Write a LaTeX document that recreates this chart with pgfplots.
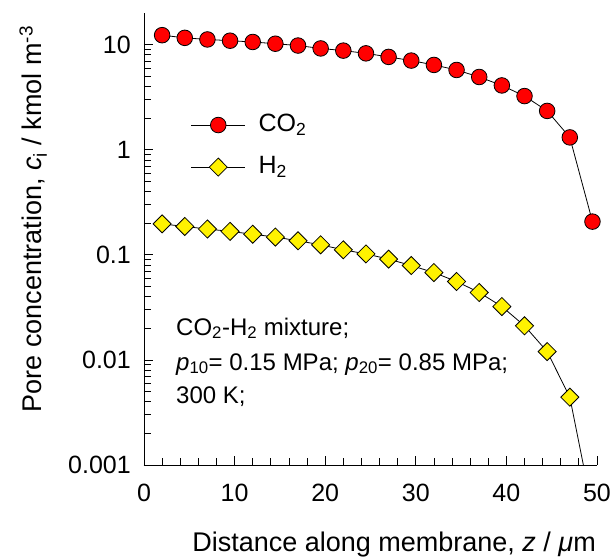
\documentclass[border=0pt]{standalone}
\usepackage{fontspec}
\setmainfont{Liberation Sans}
\usepackage{pgfplots}
\pgfplotsset{compat=1.18}

% Pore concentration profiles (kmol m^-3) along the membrane
\pgfplotstableread{
z      c
2      12.3
4.5    11.6
7      11.2
9.5    10.9
12     10.6
14.5   10.2
17     9.8
19.5   9.2
22     8.77
24.5   8.26
27     7.64
29.5   7.05
32     6.41
34.5   5.74
37     4.92
39.5   4.09
42     3.24
44.5   2.34
47     1.31
49.5   0.207
}\tableCOtwo

\pgfplotstableread{
z      c
2      0.197
4.5    0.186
7      0.176
9.5    0.167
12     0.157
14.5   0.1475
17     0.136
19.5   0.1245
22     0.1116
24.5   0.102
27     0.0910
29.5   0.0791
32     0.0678
34.5   0.0557
37     0.0438
39.5   0.0322
42     0.0211
44.5   0.0120
47     0.00442
49.5   0.00037
}\tableHtwo

\newcommand{\chartfont}{\fontsize{25pt}{30pt}\selectfont}
\newcommand{\labelfont}{\fontsize{27pt}{32pt}\selectfont}
\newcommand{\notefont}{\fontsize{24pt}{29pt}\selectfont}

\begin{document}
\chartfont
\begin{tikzpicture}
\useasboundingbox (-144pt,-92pt) rectangle (467pt,465pt);
\begin{axis}[
  scale only axis,
  width=453pt, height=452pt,
  ymode=log,
  xmin=0, xmax=50,
  ymin=0.001, ymax=20,
  axis lines*=left,
  axis line style={line width=0.9pt, black},
  tick align=inside,
  tick style={line width=0.8pt, black},
  xtick={0,10,20,30,40,50},
  minor x tick num=4,
  major tick length=9pt,
  minor tick length=7pt,
  xticklabel style={inner sep=0pt, anchor=north, yshift=-19pt},
  ytick={0.001,0.01,0.1,1,10},
  yticklabels={0.001,0.01,0.1,1,10},
  yticklabel style={inner sep=0pt, anchor=east, xshift=-13pt},
  /pgf/number format/assume math mode=true,
  every tick label/.append style={font=\chartfont},
  xlabel={Distance along membrane, \textit{z} / \textit{μ}m},
  xlabel style={at={(axis description cs:0.552,-0.1915)}, anchor=base, inner sep=0pt},
  ylabel={Pore concentration, \textit{c}\textsubscript{i} / kmol m\textsuperscript{-3}},
  ylabel style={at={(axis description cs:-0.214,0.544)}, anchor=south, inner sep=0pt},
  label style={font=\labelfont},
  legend style={draw=none, fill=none, inner sep=0pt,
    at={(rel axis cs:0.103,0.776)}, anchor=north west,
    font=\chartfont,
    row sep=21pt, column sep=13pt,
    nodes={inner sep=0pt}},
  legend cell align=left,
  legend image code/.code={
    \draw[#1, mark indices={2}]
      plot coordinates {(0pt,0pt) (27pt,0pt) (54pt,0pt)};},
]
\addplot[black, line width=0.8pt, mark=*, mark size=7.8pt,
  mark options={fill=red, draw=black, line width=0.8pt}]
  table[x=z, y=c] {\tableCOtwo};
\addlegendentry{CO\textsubscript{2}}

\addplot[black, line width=0.8pt, mark=square*, mark size=6.4pt,
  mark indices={1,...,19},
  mark options={fill=yellow, draw=black, line width=0.8pt, rotate=45}]
  table[x=z, y=c] {\tableHtwo};
\addlegendentry{H\textsubscript{2}}

\node[anchor=base west, inner sep=0pt, font=\notefont] at (rel axis cs:0.0706,0.2876)
  {CO\textsubscript{2}-H\textsubscript{2} mixture;};
\node[anchor=base west, inner sep=0pt, font=\notefont] at (rel axis cs:0.0706,0.210)
  {\textit{p}\textsubscript{10}= 0.15 MPa; \textit{p}\textsubscript{20}= 0.85 MPa;};
\node[anchor=base west, inner sep=0pt, font=\notefont] at (rel axis cs:0.0706,0.137)
  {300 K;};
\end{axis}
\end{tikzpicture}
\end{document}
